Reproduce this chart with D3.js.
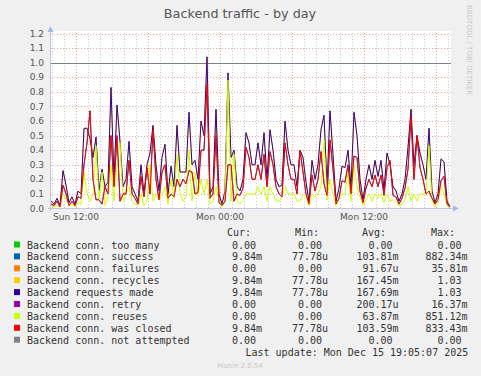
<!DOCTYPE html>
<html>
<head>
<meta charset="utf-8">
<script src="https://cdn.jsdelivr.net/npm/d3@7"></script>
<style>
  body { margin: 0; background: #f0f0f0; }
  svg text { font-family: "DejaVu Sans", sans-serif; }
  .mono { font-family: "DejaVu Sans Mono", monospace; font-size: 10px; fill: #333; white-space: pre; }
</style>
</head>
<body>
<div id="chart"></div>
<script>
// one sample every 15 minutes, starting Sun Dec 14 2025 09:55
var startTime = Date.UTC(2025, 11, 14, 9, 55);
var endTime = Date.UTC(2025, 11, 15, 19, 15);
var stepMinutes = 15;

var requestsMade = [0.05,0.03,0.07,0.02,0.26,0.16,0.04,0.08,0.03,0.12,
  0.10,0.55,0.55,0.48,0.35,0.49,0.12,0.27,0.15,0.18,
  0.83,0.20,0.71,0.46,0.15,0.20,0.46,0.15,0.10,0.05,
  0.30,0.10,0.30,0.38,0.57,0.30,0.12,0.35,0.44,0.10,
  0.29,0.15,0.57,0.25,0.25,0.25,0.66,0.30,0.33,0.20,
  0.60,0.50,1.04,0.10,0.15,0.68,0.10,0.03,0.12,0.93,
  0.35,0.40,0.15,0.12,0.20,0.52,0.45,0.30,0.30,0.45,
  0.30,0.52,0.20,0.54,0.40,0.20,0.15,0.16,0.60,0.40,
  0.30,0.30,0.15,0.40,0.35,0.18,0.05,0.33,0.20,0.30,
  0.54,0.64,0.15,0.67,0.37,0.05,0.14,0.29,0.28,0.40,
  0.15,0.66,0.50,0.20,0.06,0.20,0.30,0.20,0.33,0.22,
  0.33,0.13,0.38,0.30,0.15,0.12,0.05,0.10,0.20,0.42,
  0.68,0.30,0.50,0.38,0.30,0.20,0.55,0.12,0.04,0.10,
  0.34,0.32,0.05,0.01];

var connReuses = [0.02,0.01,0.02,0.01,0.10,0.06,0.02,0.03,0.01,0.04,
  0.03,0.25,0.10,0.05,0.10,0.43,0.06,0.25,0.02,0.08,
  0.30,0.05,0.30,0.45,0.05,0.10,0.15,0.05,0.03,0.02,
  0.10,0.02,0.05,0.30,0.05,0.10,0.06,0.10,0.15,0.03,
  0.20,0.07,0.37,0.10,0.05,0.08,0.40,0.05,0.25,0.09,
  0.20,0.10,0.20,0.03,0.05,0.15,0.06,0.01,0.07,0.88,
  0.05,0.37,0.05,0.03,0.06,0.10,0.10,0.10,0.10,0.15,
  0.10,0.15,0.05,0.15,0.10,0.05,0.05,0.08,0.15,0.10,
  0.10,0.10,0.05,0.05,0.10,0.08,0.02,0.10,0.08,0.10,
  0.15,0.47,0.06,0.20,0.10,0.02,0.07,0.10,0.10,0.25,
  0.05,0.30,0.15,0.08,0.02,0.06,0.10,0.05,0.10,0.07,
  0.10,0.04,0.10,0.05,0.06,0.04,0.02,0.03,0.06,0.15,
  0.05,0.10,0.05,0.10,0.10,0.10,0.43,0.05,0.01,0.04,
  0.15,0.10,0.02,0.00];

var connClosed = [0.03,0.02,0.05,0.01,0.16,0.10,0.02,0.05,0.02,0.08,
  0.07,0.30,0.45,0.67,0.20,0.06,0.06,0.03,0.15,0.10,
  0.50,0.15,0.50,0.05,0.10,0.10,0.33,0.10,0.07,0.03,
  0.22,0.08,0.28,0.10,0.54,0.20,0.06,0.25,0.30,0.07,
  0.10,0.08,0.20,0.15,0.20,0.17,0.26,0.25,0.10,0.11,
  0.40,0.40,0.85,0.07,0.10,0.50,0.04,0.02,0.05,0.30,
  0.30,0.05,0.10,0.09,0.14,0.42,0.35,0.20,0.20,0.30,
  0.20,0.37,0.15,0.39,0.30,0.15,0.10,0.08,0.45,0.30,
  0.20,0.20,0.10,0.40,0.25,0.10,0.03,0.23,0.12,0.20,
  0.39,0.17,0.09,0.47,0.27,0.03,0.07,0.19,0.18,0.30,
  0.10,0.36,0.35,0.12,0.04,0.14,0.20,0.15,0.23,0.15,
  0.23,0.09,0.28,0.33,0.09,0.08,0.03,0.07,0.14,0.27,
  0.63,0.20,0.50,0.28,0.20,0.10,0.12,0.07,0.03,0.06,
  0.19,0.22,0.03,0.01];

// series that stay at zero for the whole period
var flatZero = [0, 0];

var yTicks = [0, 0.1, 0.2, 0.3, 0.4, 0.5, 0.6, 0.7, 0.8, 0.9, 1.0, 1.1, 1.2];
var limitValue = 1.0;

var legendNames = ["Backend conn. too many", "Backend conn. success", "Backend conn. failures",
  "Backend conn. recycles", "Backend requests made", "Backend conn. retry",
  "Backend conn. reuses", "Backend conn. was closed", "Backend conn. not attempted"];
var legendColors = ["#00cc00", "#0066b3", "#ff8000", "#ffcc00", "#330099", "#990099", "#ccff00", "#ff0000", "#808080"];
var curValues = ["  0.00 ", "  9.84m", "  0.00 ", "  9.84m", "  9.84m", "  0.00 ", "  0.00 ", "  9.84m", "  0.00 "];
var minValues = ["  0.00 ", " 77.78u", "  0.00 ", " 77.78u", " 77.78u", "  0.00 ", "  0.00 ", " 77.78u", "  0.00 "];
var avgValues = ["  0.00 ", "103.81m", " 91.67u", "167.45m", "167.69m", "200.17u", " 63.87m", "103.59m", "  0.00 "];
var maxValues = ["  0.00 ", "882.34m", " 35.81m", "  1.03 ", "  1.03 ", " 16.37m", "851.12m", "833.43m", "  0.00 "];

var svg = d3.select("#chart")
  .append("svg")
  .attr("width", 481)
  .attr("height", 376);

svg.append("rect")
  .attr("width", 481)
  .attr("height", 376)
  .attr("fill", "#f0f0f0");

var x = d3.scaleUtc()
  .domain([startTime, endTime])
  .range([51, 451]);

var y = d3.scaleLinear()
  .domain([0, 1.2])
  .range([208.5, 33.5]);

function timeAt(i) {
  return startTime + i * stepMinutes * 60000;
}

// plot canvas
svg.append("rect")
  .attr("x", 51)
  .attr("y", 31)
  .attr("width", 400)
  .attr("height", 178)
  .attr("fill", "#ffffff");

// minor vertical grid, every hour
svg.append("g")
  .selectAll("line")
  .data(x.ticks(d3.utcHour.every(1)).filter(function(d) { return d.getUTCHours() % 6 != 0; }))
  .enter()
  .append("line")
  .attr("x1", function(d) { return Math.round(x(d)) + 0.5; })
  .attr("x2", function(d) { return Math.round(x(d)) + 0.5; })
  .attr("y1", 33)
  .attr("y2", 208)
  .attr("stroke", "#c8c8c8")
  .attr("stroke-dasharray", "1,2");

// major vertical grid, every 6 hours
svg.append("g")
  .selectAll("line")
  .data(x.ticks(d3.utcHour.every(6)))
  .enter()
  .append("line")
  .attr("x1", function(d) { return Math.round(x(d)) + 0.5; })
  .attr("x2", function(d) { return Math.round(x(d)) + 0.5; })
  .attr("y1", 33)
  .attr("y2", 208)
  .attr("stroke", "#f4a0a0")
  .attr("stroke-dasharray", "1,2");

// horizontal grid
svg.append("g")
  .selectAll("line")
  .data(yTicks.slice(1))
  .enter()
  .append("line")
  .attr("x1", 51)
  .attr("x2", 451)
  .attr("y1", function(d) { return Math.round(y(d)) + 0.5; })
  .attr("y2", function(d) { return Math.round(y(d)) + 0.5; })
  .attr("stroke", "#f4a0a0")
  .attr("stroke-dasharray", "1,2");

// y labels
svg.append("g")
  .selectAll("text")
  .data(yTicks)
  .enter()
  .append("text")
  .attr("x", 44)
  .attr("y", function(d) { return y(d); })
  .attr("dy", "0.35em")
  .attr("text-anchor", "end")
  .style("font-size", "9px")
  .style("fill", "#555")
  .text(function(d) { return d3.format(".1f")(d); });

// x labels
svg.append("g")
  .selectAll("text")
  .data(x.ticks(d3.utcHour.every(12)))
  .enter()
  .append("text")
  .attr("x", function(d) { return x(d); })
  .attr("y", 220)
  .attr("text-anchor", "middle")
  .style("font-size", "9px")
  .style("fill", "#555")
  .text(d3.utcFormat("%a %H:%M"));

// limit line at 1.0
svg.append("line")
  .attr("x1", 51)
  .attr("x2", 451)
  .attr("y1", Math.round(y(limitValue)) + 0.5)
  .attr("y2", Math.round(y(limitValue)) + 0.5)
  .attr("stroke", "#808080");

var line = d3.line()
  .x(function(d, i) { return x(timeAt(i)); })
  .y(function(d) { return y(d); });

var flatLine = d3.line()
  .x(function(d, i) { return x(i == 0 ? startTime : endTime); })
  .y(function(d) { return y(d); });

// drawn in munin's order, later series on top
var series = [
  {data: flatZero, color: legendColors[0], flat: true},
  {data: connClosed, color: legendColors[1]},
  {data: flatZero, color: legendColors[2], flat: true},
  {data: requestsMade, color: legendColors[3]},
  {data: requestsMade, color: legendColors[4]},
  {data: flatZero, color: legendColors[5], flat: true},
  {data: connReuses, color: legendColors[6]},
  {data: connClosed, color: legendColors[7]},
  {data: flatZero, color: legendColors[8], flat: true}
];

svg.append("g")
  .selectAll("path")
  .data(series)
  .enter()
  .append("path")
  .attr("d", function(d) { return d.flat ? flatLine(d.data) : line(d.data); })
  .attr("fill", "none")
  .attr("stroke", function(d) { return d.color; })
  .attr("stroke-width", 1);

// axes with arrows
var axisColor = "#c4c4dc";
svg.append("line")
  .attr("x1", 50.5).attr("x2", 50.5)
  .attr("y1", 211).attr("y2", 30)
  .attr("stroke", axisColor);
svg.append("line")
  .attr("x1", 48).attr("x2", 454)
  .attr("y1", 208.5).attr("y2", 208.5)
  .attr("stroke", axisColor);
svg.append("path")
  .attr("d", "M47.5,32 L50.5,26 L53.5,32 Z")
  .attr("fill", "#aab4ee");
svg.append("path")
  .attr("d", "M453,205.5 L459,208.5 L453,211.5 Z")
  .attr("fill", "#aab4ee");

// title
svg.append("text")
  .attr("x", 240)
  .attr("y", 18)
  .attr("text-anchor", "middle")
  .style("font-size", "12.8px")
  .style("fill", "#555")
  .text("Backend traffic - by day");

svg.append("text")
  .attr("transform", "translate(467,5) rotate(90)")
  .style("font-size", "7px")
  .style("fill", "#c8c8c8")
  .text("RRDTOOL / TOBI OETIKER");

// legend
var headers = [["Cur:", 227], ["Min:", 295], ["Avg:", 362], ["Max:", 431]];
svg.append("g")
  .selectAll("text")
  .data(headers)
  .enter()
  .append("text")
  .attr("class", "mono")
  .attr("x", function(d) { return d[1]; })
  .attr("y", 235.5)
  .text(function(d) { return d[0]; });

var rows = svg.append("g")
  .selectAll("g")
  .data(legendNames)
  .enter()
  .append("g")
  .attr("transform", function(d, i) { return "translate(0," + (248.5 + i * 11.9) + ")"; });

rows.append("rect")
  .attr("x", 14)
  .attr("y", -7)
  .attr("width", 6)
  .attr("height", 6)
  .attr("fill", function(d, i) { return legendColors[i]; });

rows.append("text")
  .attr("class", "mono")
  .attr("x", 27)
  .text(function(d) { return d; });

var columns = [[curValues, 220], [minValues, 286], [avgValues, 356.5], [maxValues, 425.5]];
columns.forEach(function(col) {
  rows.append("text")
    .attr("class", "mono")
    .attr("x", col[1])
    .text(function(d, i) { return col[0][i]; });
});

svg.append("text")
  .attr("class", "mono")
  .attr("x", 245.5)
  .attr("y", 355.5)
  .text("Last update: Mon Dec 15 19:05:07 2025");

svg.append("text")
  .attr("x", 240)
  .attr("y", 368)
  .attr("text-anchor", "middle")
  .style("font-size", "7px")
  .style("fill", "#c8c8c8")
  .text("Munin 2.0.54");
</script>
</body>
</html>
